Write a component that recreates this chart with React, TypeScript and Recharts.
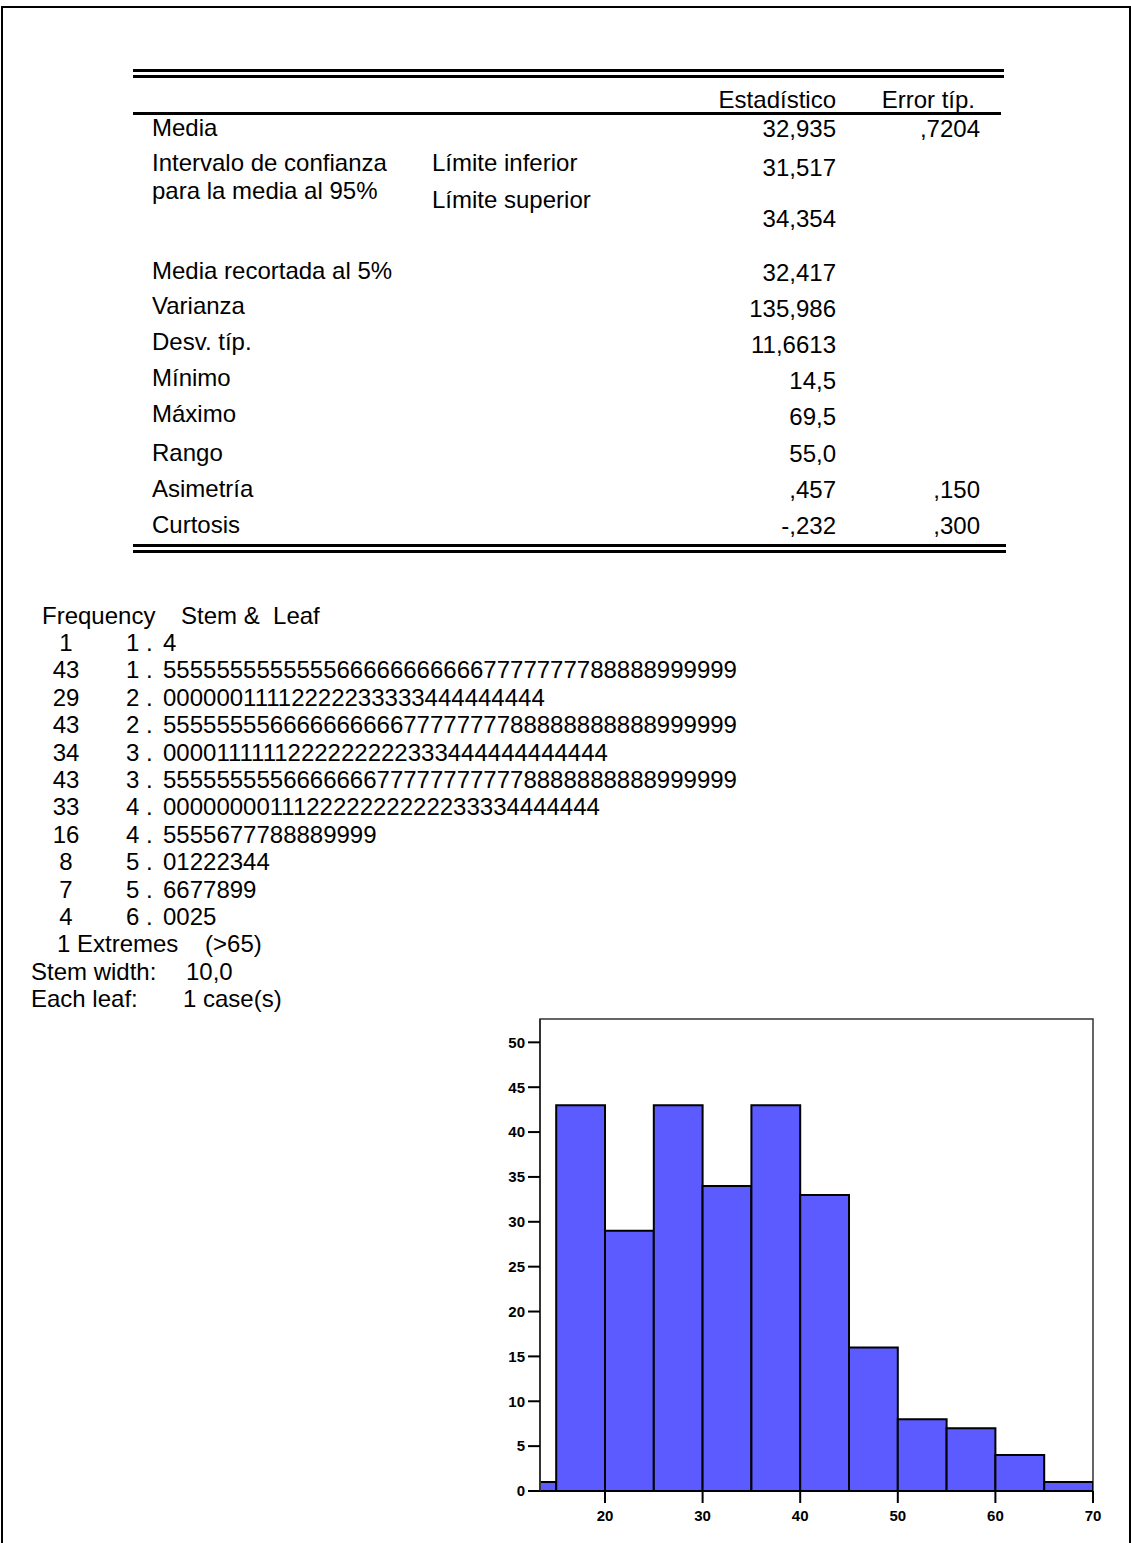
import React from "react";
import { ComposedChart, XAxis, YAxis, ReferenceArea } from "recharts";

// descriptive statistics
const statLabels = [
  "Media",
  "Intervalo de confianza",
  "para la media al 95%",
  "Media recortada al 5%",
  "Varianza",
  "Desv. típ.",
  "Mínimo",
  "Máximo",
  "Rango",
  "Asimetría",
  "Curtosis",
];
const boundLabels = ["Límite inferior", "Límite superior"];
const statValues = [
  "32,935",
  "31,517",
  "34,354",
  "32,417",
  "135,986",
  "11,6613",
  "14,5",
  "69,5",
  "55,0",
  ",457",
  "-,232",
];
const stdErrors = [",7204", ",150", ",300"];

// stem & leaf
const frequencies = [1, 43, 29, 43, 34, 43, 33, 16, 8, 7, 4];
const stems = [1, 1, 2, 2, 3, 3, 4, 4, 5, 5, 6];
const leaves = [
  "4",
  "5555555555555666666666667777777788888999999",
  "00000011112222233333444444444",
  "5555555566666666667777777788888888888999999",
  "0000111111222222222333444444444444",
  "5555555556666666777777777778888888888999999",
  "000000001112222222222233334444444",
  "5555677788889999",
  "01222344",
  "6677899",
  "0025",
];

// histogram bins (width 5)
const binStarts = [10, 15, 20, 25, 30, 35, 40, 45, 50, 55, 60, 65];
const binCounts = [1, 43, 29, 43, 34, 43, 33, 16, 8, 7, 4, 1];
const xTicks = [20, 30, 40, 50, 60, 70];
const yTicks = [0, 5, 10, 15, 20, 25, 30, 35, 40, 45, 50];

const FONT = "'Liberation Sans', Arial, sans-serif";
const BIN = 5;
const X_DOMAIN: [number, number] = [13.34, 70];
const Y_DOMAIN: [number, number] = [0, 52.6];

const bins = binStarts.map((lo, i) => ({ lo, hi: lo + BIN, count: binCounts[i] }));

// vertical centres of the table cells
const labelY = [127, 162, 190, 270, 305, 341, 377, 413, 452, 488, 524];
const boundY = [162, 199];
const valueY = [128, 167, 218, 272, 308, 344, 380, 416, 453, 489, 525];
const errorY = [128, 489, 525];

const ROW = 27.4;
const STEM_TOP = 615;

function Txt(props: {
  x: number;
  y: number;
  children: React.ReactNode;
  align?: "left" | "right" | "center";
  size?: number;
}) {
  const { x, y, children, align = "left", size = 24 } = props;
  const w = 300;
  const left = align === "left" ? x : align === "right" ? x - w : x - w / 2;
  return (
    <div
      style={{
        position: "absolute",
        left,
        top: y - 13.4,
        width: w,
        textAlign: align,
        fontSize: size,
        lineHeight: "27.4px",
        whiteSpace: "pre",
        color: "#000",
      }}
    >
      {children}
    </div>
  );
}

function Rule({ x1, x2, y, h = 3 }: { x1: number; x2: number; y: number; h?: number }) {
  return (
    <div
      style={{
        position: "absolute",
        left: x1,
        top: y,
        width: x2 - x1,
        height: h,
        background: "#000",
      }}
    />
  );
}

const tickStyle = { fontSize: 15, fontWeight: 700, fill: "#000", fontFamily: FONT };

export default function App() {
  return (
    <div
      style={{
        position: "absolute",
        left: 0,
        top: 0,
        width: 1131,
        height: 1543,
        overflow: "hidden",
        background: "#fff",
        fontFamily: FONT,
      }}
    >
      <div
        style={{
          position: "absolute",
          left: 1,
          top: 6,
          width: 1126,
          height: 1600,
          border: "2px solid #000",
        }}
      />

      {/* table rules */}
      <Rule x1={133} x2={1004} y={69} />
      <Rule x1={133} x2={1004} y={75} />
      <Rule x1={133} x2={1001} y={112} />
      <Rule x1={133} x2={1006} y={544} />
      <Rule x1={133} x2={1006} y={550} />

      <Txt x={836} y={99} align="right">Estadístico</Txt>
      <Txt x={975} y={99} align="right">Error típ.</Txt>

      {statLabels.map((s, i) => (
        <Txt key={s} x={152} y={labelY[i]}>{s}</Txt>
      ))}
      {boundLabels.map((s, i) => (
        <Txt key={s} x={432} y={boundY[i]}>{s}</Txt>
      ))}
      {statValues.map((s, i) => (
        <Txt key={s} x={836} y={valueY[i]} align="right">{s}</Txt>
      ))}
      {stdErrors.map((s, i) => (
        <Txt key={s} x={980} y={errorY[i]} align="right">{s}</Txt>
      ))}

      {/* stem-and-leaf display */}
      <Txt x={42} y={STEM_TOP}>Frequency</Txt>
      <Txt x={181} y={STEM_TOP}>{"Stem &  Leaf"}</Txt>
      {frequencies.map((f, i) => (
        <React.Fragment key={i}>
          <Txt x={66} y={STEM_TOP + ROW * (i + 1)} align="center">{String(f)}</Txt>
          <Txt x={126} y={STEM_TOP + ROW * (i + 1)}>{`${stems[i]} .`}</Txt>
          <Txt x={163} y={STEM_TOP + ROW * (i + 1)}>{leaves[i]}</Txt>
        </React.Fragment>
      ))}
      <Txt x={57} y={STEM_TOP + ROW * 12}>{"1 Extremes    (>65)"}</Txt>
      <Txt x={31} y={STEM_TOP + ROW * 13}>{"Stem width:"}</Txt>
      <Txt x={186} y={STEM_TOP + ROW * 13}>{"10,0"}</Txt>
      <Txt x={31} y={STEM_TOP + ROW * 14}>{"Each leaf:"}</Txt>
      <Txt x={183} y={STEM_TOP + ROW * 14}>{"1 case(s)"}</Txt>

      {/* histogram */}
      <div style={{ position: "absolute", left: 470, top: 1000 }}>
        <ComposedChart
          width={650}
          height={543}
          data={bins}
          margin={{ top: 19, right: 27, left: 10, bottom: 12 }}
        >
          <XAxis
            type="number"
            dataKey="lo"
            domain={X_DOMAIN}
            allowDataOverflow
            ticks={xTicks}
            tick={tickStyle}
            tickSize={12}
            tickMargin={7}
            height={40}
            axisLine={{ stroke: "#000", strokeWidth: 2 }}
            tickLine={{ stroke: "#000", strokeWidth: 2 }}
          />
          <YAxis
            type="number"
            domain={Y_DOMAIN}
            allowDataOverflow
            ticks={yTicks}
            tick={tickStyle}
            tickSize={12}
            tickMargin={3}
            width={60}
            axisLine={{ stroke: "#333", strokeWidth: 2 }}
            tickLine={{ stroke: "#000", strokeWidth: 2 }}
          />
          {/* plot frame */}
          <ReferenceArea
            x1={X_DOMAIN[0]}
            x2={X_DOMAIN[1]}
            y1={Y_DOMAIN[0]}
            y2={Y_DOMAIN[1]}
            fill="none"
            stroke="#333"
            strokeWidth={1.5}
            strokeOpacity={1}
          />
          {bins.map((b) => (
            <ReferenceArea
              key={b.lo}
              x1={b.lo}
              x2={b.hi}
              y1={0}
              y2={b.count}
              ifOverflow="hidden"
              fill="#5b5bff"
              fillOpacity={1}
              stroke="#000"
              strokeWidth={2}
              strokeOpacity={1}
            />
          ))}
        </ComposedChart>
      </div>
    </div>
  );
}
